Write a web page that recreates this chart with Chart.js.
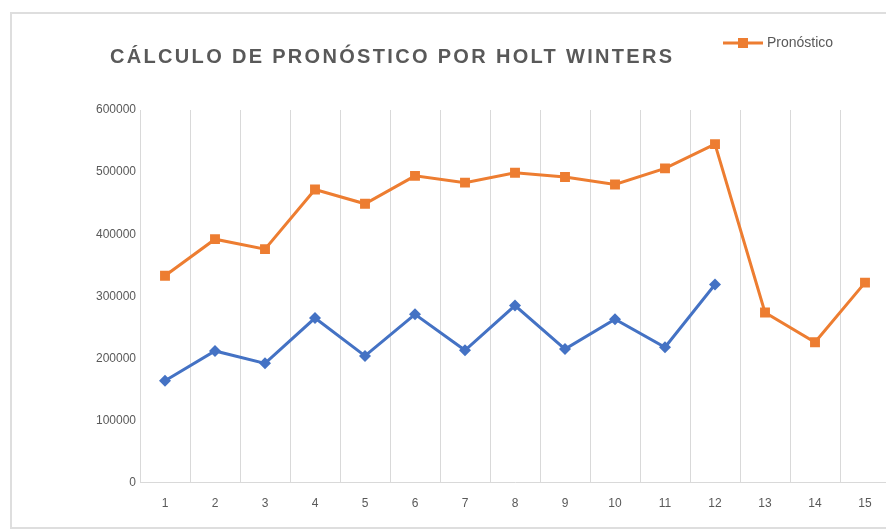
<!DOCTYPE html>
<html>
<head>
<meta charset="utf-8">
<script src="https://cdn.jsdelivr.net/npm/chart.js@4"></script>
<style>
  html, body { margin: 0; padding: 0; background: #ffffff; overflow: hidden; }
  #frame {
    position: absolute; left: 10px; top: 12px; width: 900px; height: 517px;
    border: 2px solid #dedede; box-sizing: border-box;
  }
  #chart { position: absolute; left: 0; top: 0; }
</style>
</head>
<body>
<div id="frame"></div>
<canvas id="chart" width="900" height="531"></canvas>
<script>
// Chart data
const chartTitle = 'CÁLCULO DE PRONÓSTICO POR HOLT WINTERS';
const periods = ['1', '2', '3', '4', '5', '6', '7', '8', '9', '10', '11', '12', '13', '14', '15'];
const demanda = [164000, 212000, 192000, 265000, 204000, 271000, 213000, 285000, 215000, 263000, 218000, 319000, null, null, null];
const pronostico = [333000, 392000, 376000, 472000, 449000, 494000, 483000, 499000, 492000, 480000, 506000, 545000, 274000, 226000, 322000];
const yTicks = [0, 100000, 200000, 300000, 400000, 500000, 600000];

const BLUE = '#4472C4';
const ORANGE = '#ED7D31';
const GRAY_TEXT = '#595959';
const GRID = '#d9d9d9';

// Title drawn with letter spacing (Excel style)
const titlePlugin = {
  id: 'spacedTitle',
  afterDraw(chart) {
    const ctx = chart.ctx;
    ctx.save();
    ctx.font = 'bold 20px "Liberation Sans", Arial, sans-serif';
    ctx.fillStyle = GRAY_TEXT;
    ctx.textBaseline = 'middle';
    ctx.textAlign = 'left';
    const plain = ctx.measureText(chartTitle).width;
    const spacing = (562 - plain) / (chartTitle.length - 1);
    ctx.letterSpacing = spacing.toFixed(2) + 'px';
    ctx.fillText(chartTitle, 110, 57);
    ctx.restore();
  }
};

// Custom legend (only the forecast series is shown)
const legendPlugin = {
  id: 'excelLegend',
  afterDraw(chart) {
    const ctx = chart.ctx;
    const ds = chart.data.datasets[1];
    ctx.save();
    ctx.strokeStyle = ORANGE;
    ctx.lineWidth = 3;
    ctx.beginPath();
    ctx.moveTo(723, 43);
    ctx.lineTo(763, 43);
    ctx.stroke();
    ctx.fillStyle = ORANGE;
    ctx.fillRect(743 - 5, 43 - 5, 10, 10);
    ctx.font = '14px "Liberation Sans", Arial, sans-serif';
    ctx.fillStyle = GRAY_TEXT;
    ctx.textBaseline = 'middle';
    ctx.fillText(ds.label, 767, 43);
    ctx.restore();
  }
};

new Chart(document.getElementById('chart'), {
  type: 'line',
  data: {
    labels: periods,
    datasets: [
      {
        label: 'Demanda',
        data: demanda,
        borderColor: BLUE,
        backgroundColor: BLUE,
        borderWidth: 3,
        pointStyle: 'rectRot',
        pointRadius: 6,
        pointBorderWidth: 0,
        tension: 0,
        spanGaps: false
      },
      {
        label: 'Pronóstico',
        data: pronostico,
        borderColor: ORANGE,
        backgroundColor: ORANGE,
        borderWidth: 3,
        pointStyle: 'rect',
        pointRadius: 7,
        pointBorderWidth: 0,
        tension: 0
      }
    ]
  },
  options: {
    responsive: false,
    animation: false,
    layout: { padding: { top: 110, right: 10, bottom: 6, left: 0 } },
    plugins: {
      legend: { display: false },
      title: { display: false },
      tooltip: { enabled: false }
    },
    scales: {
      x: {
        offset: true,
        grid: { offset: true, color: GRID, lineWidth: 1, drawTicks: false },
        border: { display: true, color: GRID, width: 1 },
        ticks: {
          color: GRAY_TEXT,
          font: { family: '"Liberation Sans", Arial, sans-serif', size: 12 },
          padding: 14
        }
      },
      y: {
        min: 0,
        max: 600000,
        afterFit(scale) { scale.width = 140; },
        afterBuildTicks(scale) { scale.ticks = yTicks.map(v => ({ value: v })); },
        grid: { display: false, drawTicks: false },
        border: { display: false },
        ticks: {
          color: GRAY_TEXT,
          font: { family: '"Liberation Sans", Arial, sans-serif', size: 12 },
          padding: 4,
          callback: v => String(v)
        }
      }
    }
  },
  plugins: [titlePlugin, legendPlugin]
});
</script>
</body>
</html>
